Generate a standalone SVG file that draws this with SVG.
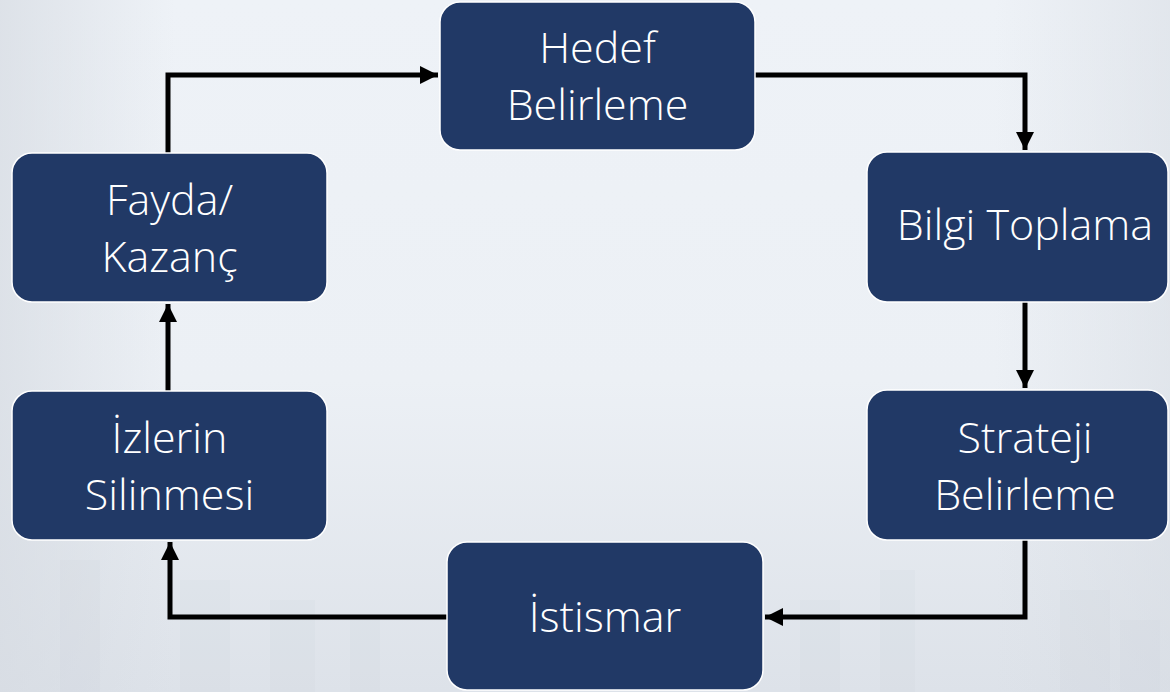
<svg xmlns="http://www.w3.org/2000/svg" width="1170" height="692" viewBox="0 0 1170 692">
  <defs>
    <linearGradient id="bg" x1="0" y1="0" x2="0" y2="1">
      <stop offset="0" stop-color="#eef2f7"/>
      <stop offset="0.55" stop-color="#ecf0f5"/>
      <stop offset="1" stop-color="#dde2e9"/>
    </linearGradient>
    <linearGradient id="side" x1="0" y1="0" x2="1" y2="0">
      <stop offset="0" stop-color="#d6dbe2" stop-opacity="0.7"/>
      <stop offset="0.15" stop-color="#d6dbe2" stop-opacity="0"/>
      <stop offset="0.85" stop-color="#d6dbe2" stop-opacity="0"/>
      <stop offset="1" stop-color="#d6dbe2" stop-opacity="0.5"/>
    </linearGradient>
    <marker id="arrow" viewBox="0 0 10 10" refX="10" refY="5" markerWidth="3.6" markerHeight="3.6" orient="auto" markerUnits="strokeWidth">
      <path d="M0,0 L10,5 L0,10 z" fill="#000"/>
    </marker>
    <style>
      .box { fill: #213966; stroke: #ffffff; stroke-width: 1.5; }
      .lbl { fill: #ffffff; font-family: "Open Sans", "Noto Sans", "DejaVu Sans", sans-serif; font-weight: 300; font-size: 43px; text-anchor: middle; }
      .conn { fill: none; stroke: #000; stroke-width: 5; stroke-linejoin: miter; marker-end: url(#arrow); }
      .bld { fill: #c9d0d9; opacity: 0.12; }
    </style>
  </defs>

  <rect x="0" y="0" width="1170" height="692" fill="url(#bg)"/>
  <rect x="0" y="0" width="1170" height="692" fill="url(#side)"/>
  <g id="background-city">
    <rect class="bld" x="60" y="560" width="40" height="132"/>
    <rect class="bld" x="180" y="580" width="50" height="112"/>
    <rect class="bld" x="270" y="600" width="45" height="92"/>
    <rect class="bld" x="350" y="620" width="30" height="72"/>
    <rect class="bld" x="800" y="600" width="40" height="92"/>
    <rect class="bld" x="880" y="570" width="35" height="122"/>
    <rect class="bld" x="1060" y="590" width="50" height="102"/>
    <rect class="bld" x="1120" y="620" width="40" height="72"/>
  </g>

  <g id="connectors">
    <path class="conn" d="M168,153 L168,75 L438,75"/>
    <path class="conn" d="M755,75 L1025,75 L1025,150"/>
    <path class="conn" d="M1025,302 L1025,388"/>
    <path class="conn" d="M1025,540 L1025,617 L765,617"/>
    <path class="conn" d="M447,617 L170,617 L170,542"/>
    <path class="conn" d="M168,391 L168,304"/>
  </g>

  <g id="node-hedef">
    <rect class="box" x="440" y="2" width="315" height="148" rx="20"/>
    <text class="lbl" x="597.5" y="63">Hedef</text>
    <text class="lbl" x="597.5" y="120">Belirleme</text>
  </g>
  <g id="node-bilgi">
    <rect class="box" x="867" y="152" width="301" height="150" rx="20"/>
    <text class="lbl" x="1025" y="240">Bilgi Toplama</text>
  </g>
  <g id="node-strateji">
    <rect class="box" x="867" y="390" width="301" height="150" rx="20"/>
    <text class="lbl" x="1025" y="453">Strateji</text>
    <text class="lbl" x="1025" y="510">Belirleme</text>
  </g>
  <g id="node-istismar">
    <rect class="box" x="447" y="542" width="316" height="148" rx="20"/>
    <text class="lbl" x="605" y="632">İstismar</text>
  </g>
  <g id="node-izlerin">
    <rect class="box" x="12" y="391" width="315" height="149" rx="20"/>
    <text class="lbl" x="169.5" y="453">İzlerin</text>
    <text class="lbl" x="169.5" y="510">Silinmesi</text>
  </g>
  <g id="node-fayda">
    <rect class="box" x="12" y="153" width="315" height="149" rx="20"/>
    <text class="lbl" x="169.5" y="215">Fayda/</text>
    <text class="lbl" x="169.5" y="272">Kazanç</text>
  </g>
</svg>
